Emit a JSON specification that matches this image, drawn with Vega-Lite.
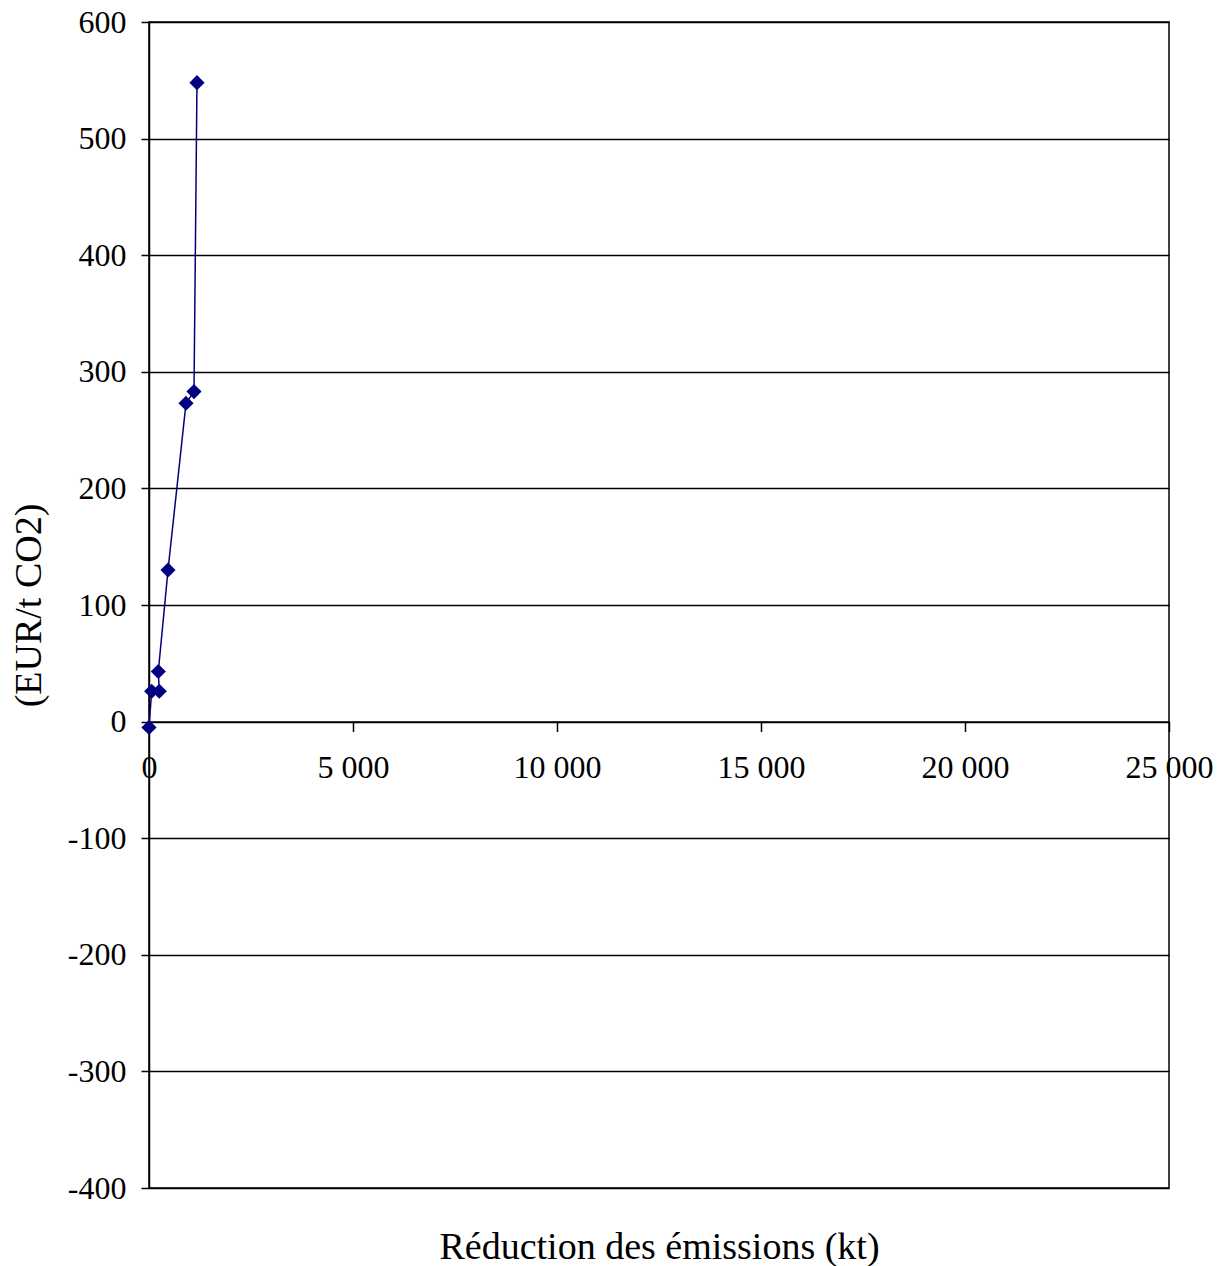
{
  "$schema": "https://vega.github.io/schema/vega-lite/v6.json",
  "autosize": "none",
  "width": 1020,
  "height": 1166,
  "padding": {"left": 149, "top": 22, "right": 56, "bottom": 78},
  "background": "white",
  "config": {
    "font": "Liberation Serif",
    "view": {"stroke": "black", "strokeWidth": 1.5},
    "axis": {
      "labelFont": "Liberation Serif",
      "titleFont": "Liberation Serif",
      "labelColor": "black",
      "titleColor": "black",
      "titleFontWeight": "normal",
      "domainColor": "black",
      "tickColor": "black",
      "domainWidth": 1.5,
      "tickWidth": 1.5
    }
  },
  "data": {
    "values": [
      {"i": 1, "reduction": 0, "cout": -5},
      {"i": 2, "reduction": 66, "cout": 26},
      {"i": 3, "reduction": 252, "cout": 26},
      {"i": 4, "reduction": 228, "cout": 43},
      {"i": 5, "reduction": 466, "cout": 130},
      {"i": 6, "reduction": 907, "cout": 273},
      {"i": 7, "reduction": 1103, "cout": 283},
      {"i": 8, "reduction": 1176, "cout": 548}
    ]
  },
  "encoding": {
    "x": {
      "field": "reduction",
      "type": "quantitative",
      "scale": {"domain": [0, 25000], "nice": false, "zero": false},
      "axis": {
        "title": "Réduction des émissions (kt)",
        "titleFontSize": 38,
        "titleY": 526,
        "titleBaseline": "middle",
        "offset": -466.4,
        "values": [0, 5000, 10000, 15000, 20000, 25000],
        "labelExpr": "replace(format(datum.value, ',d'), ',', ' ')",
        "labelFontSize": 32,
        "labelPadding": 21,
        "tickSize": 10,
        "grid": false,
        "labelFlush": false,
        "labelOverlap": false
      }
    },
    "y": {
      "field": "cout",
      "type": "quantitative",
      "scale": {"domain": [-400, 600], "nice": false, "zero": false},
      "axis": {
        "title": "(EUR/t CO2)",
        "titleFontSize": 38,
        "titleX": -120,
        "titleY": 583,
        "titleAlign": "center",
        "titleBaseline": "middle",
        "titleAngle": -90,
        "values": [-400, -300, -200, -100, 0, 100, 200, 300, 400, 500, 600],
        "labelExpr": "'' + datum.value",
        "labelFontSize": 32,
        "labelPadding": 15,
        "tickSize": 8,
        "grid": true,
        "gridColor": "black",
        "gridWidth": 1.5,
        "gridOpacity": 1,
        "labelFlush": false,
        "labelOverlap": false
      }
    },
    "order": {"field": "i", "type": "quantitative"}
  },
  "layer": [
    {"mark": {"type": "line", "color": "#000080", "strokeWidth": 1.5}},
    {"mark": {"type": "point", "shape": "diamond", "filled": true, "size": 230, "color": "#000080", "opacity": 1}}
  ]
}
